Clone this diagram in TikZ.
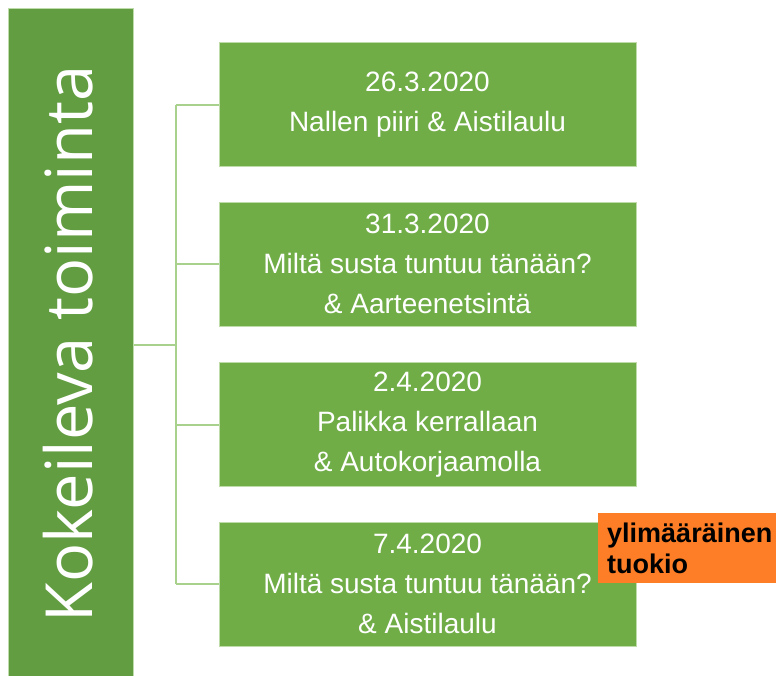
\documentclass[tikz,border=0pt]{standalone}
\usepackage{fontspec}
\setmainfont{Liberation Sans}
\newfontfamily\titlefont{Open Sans}
\definecolor{leftgreen}{RGB}{98,157,65}
\definecolor{boxgreen}{RGB}{112,173,71}
\definecolor{linegreen}{RGB}{169,209,142}
\definecolor{edgegreen}{RGB}{190,220,170}
\definecolor{tagorange}{RGB}{253,126,38}
\begin{document}
\begin{tikzpicture}[x=1pt,y=-1pt,
  eventbox/.style={fill=boxgreen, draw=edgegreen, line width=0.8pt, minimum width=417pt, minimum height=124pt, inner sep=0pt, align=center, text=white, font=\fontsize{28}{40}\selectfont},
  conn/.style={draw=linegreen, line width=2pt}]
\useasboundingbox (0,0) rectangle (776,675);
\node[fill=leftgreen, draw=edgegreen, line width=0.8pt, minimum width=125pt, minimum height=680pt, inner sep=0pt, anchor=north west] (main) at (8,8) {};
\node[rotate=90, anchor=base, text=white, font=\titlefont\fontsize{65}{70}\selectfont] (title) at (92,344) {Kokeileva toiminta};
\node[eventbox] (b1) at (427.5,104.5) {26.3.2020\\Nallen piiri \& Aistilaulu};
\node[eventbox] (b2) at (427.5,264) {31.3.2020\\Miltä susta tuntuu tänään?\\\& Aarteenetsintä};
\node[eventbox] (b3) at (427.5,424.5) {2.4.2020\\Palikka kerrallaan\\\& Autokorjaamolla};
\node[eventbox] (b4) at (427.5,584) {7.4.2020\\Miltä susta tuntuu tänään?\\\& Aistilaulu};
\coordinate (hub) at (176,345);
\coordinate (top) at (176,104.5);
\coordinate (bot) at (176,584);
\draw[conn] (top) -- (bot);
\draw[conn] (main.east |- hub) -- (hub);
\draw[conn] (top) -- (b1.west);
\draw[conn] (176,264) -- (b2.west);
\draw[conn] (176,424.5) -- (b3.west);
\draw[conn] (bot) -- (b4.west);
\node[fill=tagorange, minimum width=180pt, minimum height=70pt, inner sep=0pt, anchor=north west] (tag) at (598,513) {};
\node[anchor=base west, align=left, inner sep=0pt, font=\bfseries\fontsize{27}{31}\selectfont] (tagtext) at (607,573) {ylimääräinen\\tuokio};
\end{tikzpicture}
\end{document}
